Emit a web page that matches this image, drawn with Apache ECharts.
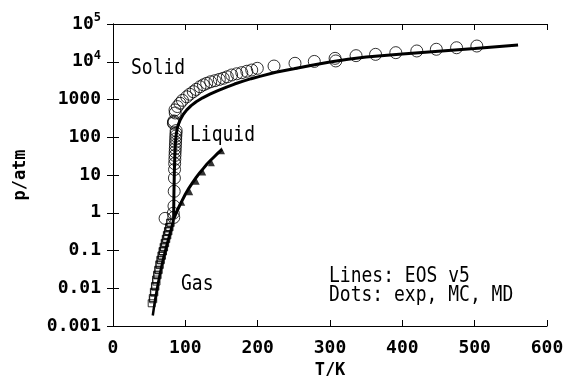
<!DOCTYPE html>
<html>
<head>
<meta charset="utf-8">
<script src="https://cdn.jsdelivr.net/npm/echarts@6/dist/echarts.min.js"></script>
<style>
html, body { margin: 0; padding: 0; background: #fff; }
#main { width: 566px; height: 376px; }
</style>
</head>
<body>
<div id="main"></div>
<script>
// EOS lines (T in K, p in atm)
var meltT = [83.8, 84.2, 84.8, 85.5, 86.3, 87.2, 88.5, 90, 93, 97, 102, 108, 115, 124, 134, 145, 157, 168, 180, 191, 203, 225, 250, 275, 300, 325, 350, 400, 450, 500, 560];
var meltP = [0.69, 3, 12, 35, 70, 110, 160, 210, 290, 400, 530, 690, 870, 1110, 1380, 1720, 2130, 2570, 3070, 3560, 4100, 5250, 6500, 8100, 9800, 11600, 13400, 16000, 19000, 22500, 27700];
var vapT = [83.8, 87, 90, 95, 100, 105, 110, 115, 120, 125, 130, 135, 140, 145, 150.7];
var vapP = [0.68, 0.95, 1.3, 2.0, 3.1, 4.5, 6.3, 8.6, 11.5, 15, 19.5, 24.5, 30.5, 38, 48];
var subT = [55, 58, 62, 66, 70, 74, 78, 81, 83.8];
var subP = [0.0019, 0.0047, 0.013, 0.031, 0.068, 0.135, 0.26, 0.42, 0.68];

// dots
var circT = [84.0, 84.3, 84.6, 84.9, 85.1, 85.3, 85.5, 85.7, 85.9, 86.1, 86.3, 86.5, 86.7, 86.9, 87.1, 87.3, 83.5, 83.8, 84.2, 86, 72.0, 83.4,
  85.7, 89, 92.6, 96, 101.9, 106, 111, 115, 120.3, 125, 129.5, 135, 141, 147, 152.5, 158, 164, 171, 178, 185, 191.8, 199.5,
  222.6, 251.6, 278.3, 307, 308, 336, 363, 391, 420, 447, 475, 503];
var circP = [0.75, 1.5, 3.7, 8.3, 14, 20, 26, 33, 41, 50, 61, 74, 90, 108, 128, 150, 235, 250, 270, 440, 0.71, 0.97,
  530, 650, 795, 950, 1180, 1380, 1610, 1850, 2180, 2450, 2690, 2950, 3150, 3400, 3650, 4000, 4460, 4800, 5140, 5600, 6040, 6700,
  7700, 9100, 10200, 12300, 10500, 14500, 15700, 17400, 19300, 21400, 23500, 26100];
var triT = [95, 106, 115, 124, 136, 150];
var triP = [1.9, 3.6, 6.8, 12, 21, 44];
var sqAT = [53.5, 55, 56.5, 58, 59.5, 61, 62.5, 64, 65.5, 67, 68.5, 70, 71.5, 73, 74.5, 76, 77.5, 79];
var sqAP = [0.0040, 0.0055, 0.0081, 0.0115, 0.017, 0.023, 0.031, 0.043, 0.057, 0.074, 0.097, 0.125, 0.16, 0.205, 0.26, 0.33, 0.42, 0.55];
var sqBT = [55.6, 57.1, 58.6, 60.1, 61.6, 63.1, 64.6, 66.1, 67.6, 69.1, 70.6, 72.1, 73.6, 75.1, 76.6, 78.1, 79.6];
var sqBP = [0.0051, 0.0077, 0.011, 0.015, 0.022, 0.030, 0.041, 0.055, 0.072, 0.094, 0.12, 0.155, 0.20, 0.25, 0.32, 0.41, 0.53];

var yTickLabels = ['0.001', '0.01', '0.1', '1', '10', '100', '1000', '10^4', '10^5'];

var mono = 'DejaVu Sans Mono';
var plotFont = '18px "DejaVu Sans Mono"';

function zip(xs, ys) {
    return xs.map(function (x, i) { return [x, ys[i]]; });
}

// 图上的文字（稍微拉高一点，接近原图的窄字体）
function label(text, x, y) {
    return {
        type: 'text', x: x, y: y, scaleY: 1.2,
        style: { text: text, font: plotFont, fill: '#000', textVerticalAlign: 'middle' }
    };
}

var myChart = echarts.init(document.getElementById('main'));

var axisLine = { show: true, lineStyle: { color: '#000', width: 1 } };
var axisTick = { show: true, inside: true, length: 6, lineStyle: { color: '#000', width: 1 } };

myChart.setOption({
    animation: false,
    backgroundColor: '#fff',
    grid: { left: 113, right: 19, top: 24, bottom: 50, containLabel: false, outerBoundsMode: 'none' },
    xAxis: [{
        type: 'value', min: 0, max: 600, interval: 100,
        name: 'T/K', nameLocation: 'middle', nameGap: 33,
        nameTextStyle: { fontFamily: mono, fontWeight: 'bold', fontSize: 17, color: '#000' },
        axisLine: axisLine, axisTick: axisTick, splitLine: { show: false },
        axisLabel: { margin: 13, fontFamily: mono, fontWeight: 'bold', fontSize: 18, color: '#000' }
    }, {
        type: 'value', min: 0, max: 600, interval: 100, position: 'top',
        axisLine: axisLine, axisTick: axisTick, splitLine: { show: false },
        axisLabel: { show: false }
    }],
    yAxis: [{
        type: 'log', logBase: 10, min: 0.001, max: 100000, splitNumber: 8,
        name: 'p/atm', nameLocation: 'middle', nameGap: 84, nameRotate: 90,
        nameTextStyle: { fontFamily: mono, fontWeight: 'bold', fontSize: 17, color: '#000' },
        axisLine: axisLine, axisTick: axisTick, splitLine: { show: false },
        axisLabel: {
            margin: 12,
            formatter: function (v) {
                var e = Math.round(Math.log10(v));
                var s = yTickLabels[e + 3];
                if (!s) return '';
                if (s.indexOf('^') > 0) {
                    var parts = s.split('^');
                    return '{b|' + parts[0] + '}{s|' + parts[1] + '}';
                }
                return '{b|' + s + '}';
            },
            rich: {
                b: { fontFamily: mono, fontWeight: 'bold', fontSize: 18, lineHeight: 24, color: '#000' },
                s: { fontFamily: mono, fontWeight: 'bold', fontSize: 12, lineHeight: 12, verticalAlign: 'top', color: '#000' }
            }
        }
    }, {
        type: 'log', logBase: 10, min: 0.001, max: 100000, splitNumber: 8, position: 'right',
        axisLine: axisLine, axisTick: axisTick, splitLine: { show: false },
        axisLabel: { show: false }
    }],
    series: [{
        type: 'scatter', data: zip(sqAT, sqAP), symbol: 'rect', symbolSize: 7,
        itemStyle: { color: 'rgba(0,0,0,0)', borderColor: '#000', borderWidth: 1 }
    }, {
        type: 'scatter', data: zip(sqBT, sqBP), symbol: 'rect', symbolSize: 7,
        itemStyle: { color: 'rgba(0,0,0,0)', borderColor: '#000', borderWidth: 1 }
    }, {
        type: 'scatter', data: zip(circT, circP), symbol: 'circle', symbolSize: 12,
        itemStyle: { color: 'rgba(0,0,0,0)', borderColor: '#000', borderWidth: 1 }
    }, {
        type: 'line', data: zip(meltT, meltP), showSymbol: false, z: 5,
        lineStyle: { color: '#000', width: 3 }
    }, {
        type: 'line', data: zip(vapT, vapP), showSymbol: false, z: 5,
        lineStyle: { color: '#000', width: 3 }
    }, {
        type: 'line', data: zip(subT, subP), showSymbol: false, z: 5,
        lineStyle: { color: '#000', width: 2.5 }
    }, {
        type: 'scatter', data: zip(triT, triP), symbol: 'triangle', symbolSize: 7, z: 6,
        itemStyle: { color: '#000' }
    }],
    graphic: [
        label('Solid', 131, 68),
        label('Liquid', 190, 135),
        label('Gas', 181, 284),
        label('Lines: EOS v5', 329, 276),
        label('Dots: exp, MC, MD', 329, 295)
    ]
});
</script>
</body>
</html>
